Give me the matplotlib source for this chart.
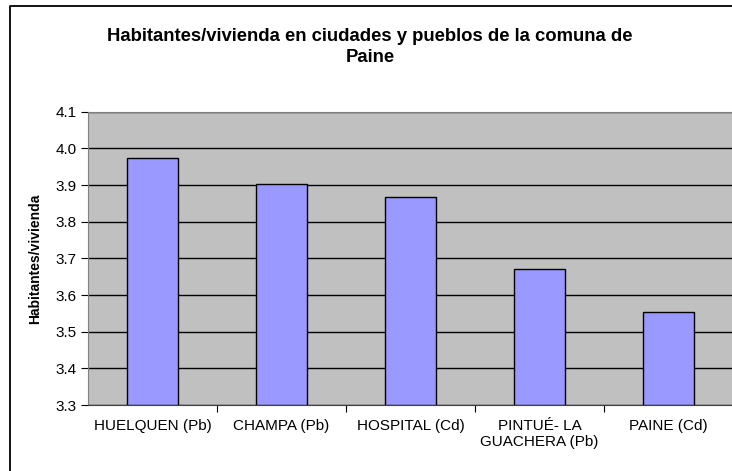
import matplotlib.pyplot as plt
from matplotlib.lines import Line2D

plt.rcParams['font.family'] = ['Liberation Sans', 'DejaVu Sans']

# data
lugares = ["HUELQUEN (Pb)", "CHAMPA (Pb)", "HOSPITAL (Cd)",
           "PINTUÉ- LA\nGUACHERA (Pb)", "PAINE (Cd)"]
hab_viv = [3.975, 3.903, 3.866, 3.671, 3.553]
yticks = [3.3, 3.4, 3.5, 3.6, 3.7, 3.8, 3.9, 4.0, 4.1]

W, H = 732, 471
fig = plt.figure(figsize=(W / 100, H / 100), dpi=100)

# outer chart border (only the left and top edges are inside the picture)
fig.lines.append(Line2D([9.5 / W, 9.5 / W, 1.0], [0.0, 1 - 5.5 / H, 1 - 5.5 / H],
                        transform=fig.transFigure, color="black", linewidth=1.3))

ax = fig.add_axes([88 / W, 1 - 405 / H, 645 / W, (405 - 111.7) / H])
ax.set_facecolor("#C0C0C0")

x = range(len(lugares))
ax.bar(x, [v - 3.3 for v in hab_viv], bottom=3.3, width=0.4,
       color="#9999FF", edgecolor="black", linewidth=1.0, zorder=3)

ax.set_ylim(3.3, 4.1)
ax.set_xlim(-0.5, len(lugares) - 0.5)
ax.set_yticks(yticks)
ax.set_yticklabels(["%.1f" % t for t in yticks], fontsize=11)
ax.yaxis.grid(True, color="black", linewidth=1.0, zorder=0)
ax.set_axisbelow(True)

# category ticks sit between bars, labels sit under bars
ax.set_xticks([i + 0.5 for i in range(len(lugares) - 1)])
ax.set_xticklabels([])
ax.set_xticks(list(x), minor=True)
ax.set_xticklabels(lugares, minor=True, fontsize=11, ha="center")
ax.tick_params(axis="x", which="minor", length=0, pad=10)
ax.tick_params(axis="x", which="major", length=5, direction="out", color="black")
ax.tick_params(axis="y", length=5, direction="out", color="black", pad=3)

ax.spines["right"].set_visible(False)
ax.spines["top"].set_color("#808080")
ax.spines["left"].set_color("#808080")
ax.spines["bottom"].set_color("#404040")

ax.set_ylabel("Habitantes/vivienda", fontsize=10, fontweight="bold", labelpad=10)

fig.text(370 / W, 1 - 47 / H,
         "Habitantes/vivienda en ciudades y pueblos de la comuna de\nPaine",
         ha="center", va="center", fontsize=13.3, fontweight="bold",
         linespacing=1.35)

fig.savefig("out.png", dpi=100)
